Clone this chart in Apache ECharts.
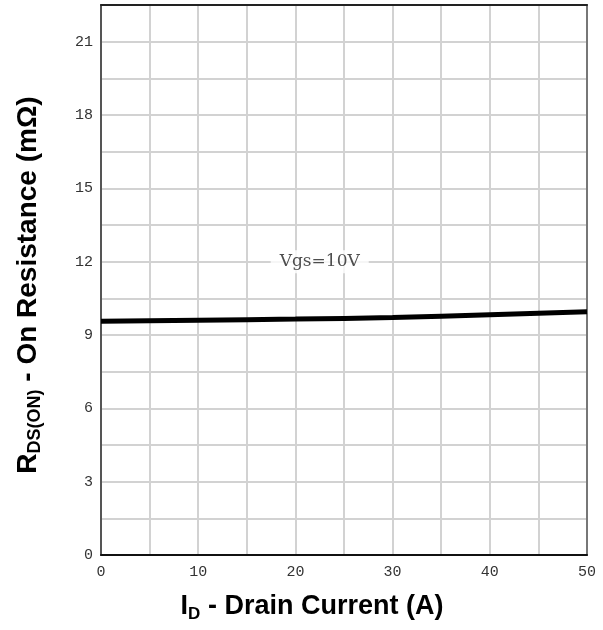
<!DOCTYPE html>
<html>
<head>
<meta charset="utf-8">
<style>
  html, body { margin: 0; padding: 0; background: #fff; }
  #chart { width: 603px; height: 630px; }
</style>
<script src="https://cdn.jsdelivr.net/npm/echarts@6/dist/echarts.min.js"></script>
</head>
<body>
<div id="chart"></div>
<script>
// Drain current (A) and on-resistance (mΩ) at Vgs = 10 V
const currentA = [0, 10, 20, 30, 40, 50];
const rdsOn = [9.56, 9.60, 9.65, 9.72, 9.83, 9.95];
const curveLabel = 'Vgs=10V';
const curveLabelAt = [22.5, 12];

const chart = echarts.init(document.getElementById('chart'), null, { renderer: 'canvas' });

const tickFont = { fontFamily: 'Liberation Mono', fontSize: 15, color: '#333' };
const gridLine = { show: true, lineStyle: { color: '#d2d2d2', width: 2 } };
const boldRich = (big, small) => ({
  b: { fontFamily: 'Liberation Sans', fontWeight: 'bold', fontSize: big, color: '#111' },
  s: { fontFamily: 'Liberation Sans', fontWeight: 'bold', fontSize: small, color: '#111', padding: [Math.round(big * 0.55), 0, 0, 0] }
});
// plain frame edges (top and right)
const frameX = { type: 'value', min: 0, max: 50, position: 'top', axisLine: { show: true, onZero: false, lineStyle: { color: '#222', width: 2 } }, axisTick: { show: false }, axisLabel: { show: false }, splitLine: { show: false } };
const frameY = { type: 'value', min: 0, max: 22.5, position: 'right', axisLine: { show: true, onZero: false, lineStyle: { color: '#777', width: 2 } }, axisTick: { show: false }, axisLabel: { show: false }, splitLine: { show: false } };

chart.setOption({
  animation: false,
  backgroundColor: '#fff',
  grid: { left: 101, right: 16, top: 5, bottom: 75 },
  xAxis: [{
    type: 'value', min: 0, max: 50, interval: 5,
    axisLine: { show: true, lineStyle: { color: '#111', width: 2 } },
    axisTick: { show: false },
    splitLine: gridLine,
    axisLabel: Object.assign({
      margin: 10,
      formatter: v => (v % 10 === 0 ? String(v) : '')
    }, tickFont)
  }, frameX],
  yAxis: [{
    type: 'value', min: 0, max: 22.5, interval: 1.5,
    axisLine: { show: true, lineStyle: { color: '#555', width: 2 } },
    axisTick: { show: false },
    splitLine: gridLine,
    axisLabel: Object.assign({
      margin: 8,
      formatter: v => (Math.abs(v % 3) < 1e-9 ? String(Math.round(v)) : '')
    }, tickFont)
  }, frameY],
  graphic: [
    {
      type: 'text',
      x: 312, y: 607,
      style: {
        text: '{b|I}{s|D}{b| - Drain Current (A)}',
        rich: boldRich(27, 17),
        align: 'center', verticalAlign: 'middle'
      }
    },
    {
      type: 'text',
      x: 28, y: 285, rotation: Math.PI / 2,
      style: {
        text: '{b|R}{s|DS(ON)}{b| - On Resistance (mΩ)}',
        rich: boldRich(28, 18),
        align: 'center', verticalAlign: 'middle'
      }
    }
  ],
  series: [
    {
      type: 'line',
      data: currentA.map((x, i) => [x, rdsOn[i]]),
      smooth: true,
      showSymbol: false,
      lineStyle: { color: '#000', width: 5 },
      z: 3
    },
    {
      type: 'scatter',
      data: [curveLabelAt],
      symbolSize: 0,
      silent: true,
      z: 4,
      label: {
        show: true,
        position: 'inside',
        formatter: curveLabel,
        fontFamily: 'DejaVu Serif',
        fontSize: 17,
        color: '#222',
        backgroundColor: '#fff',
        padding: [3, 9, 3, 9]
      }
    }
  ]
});
</script>
</body>
</html>
